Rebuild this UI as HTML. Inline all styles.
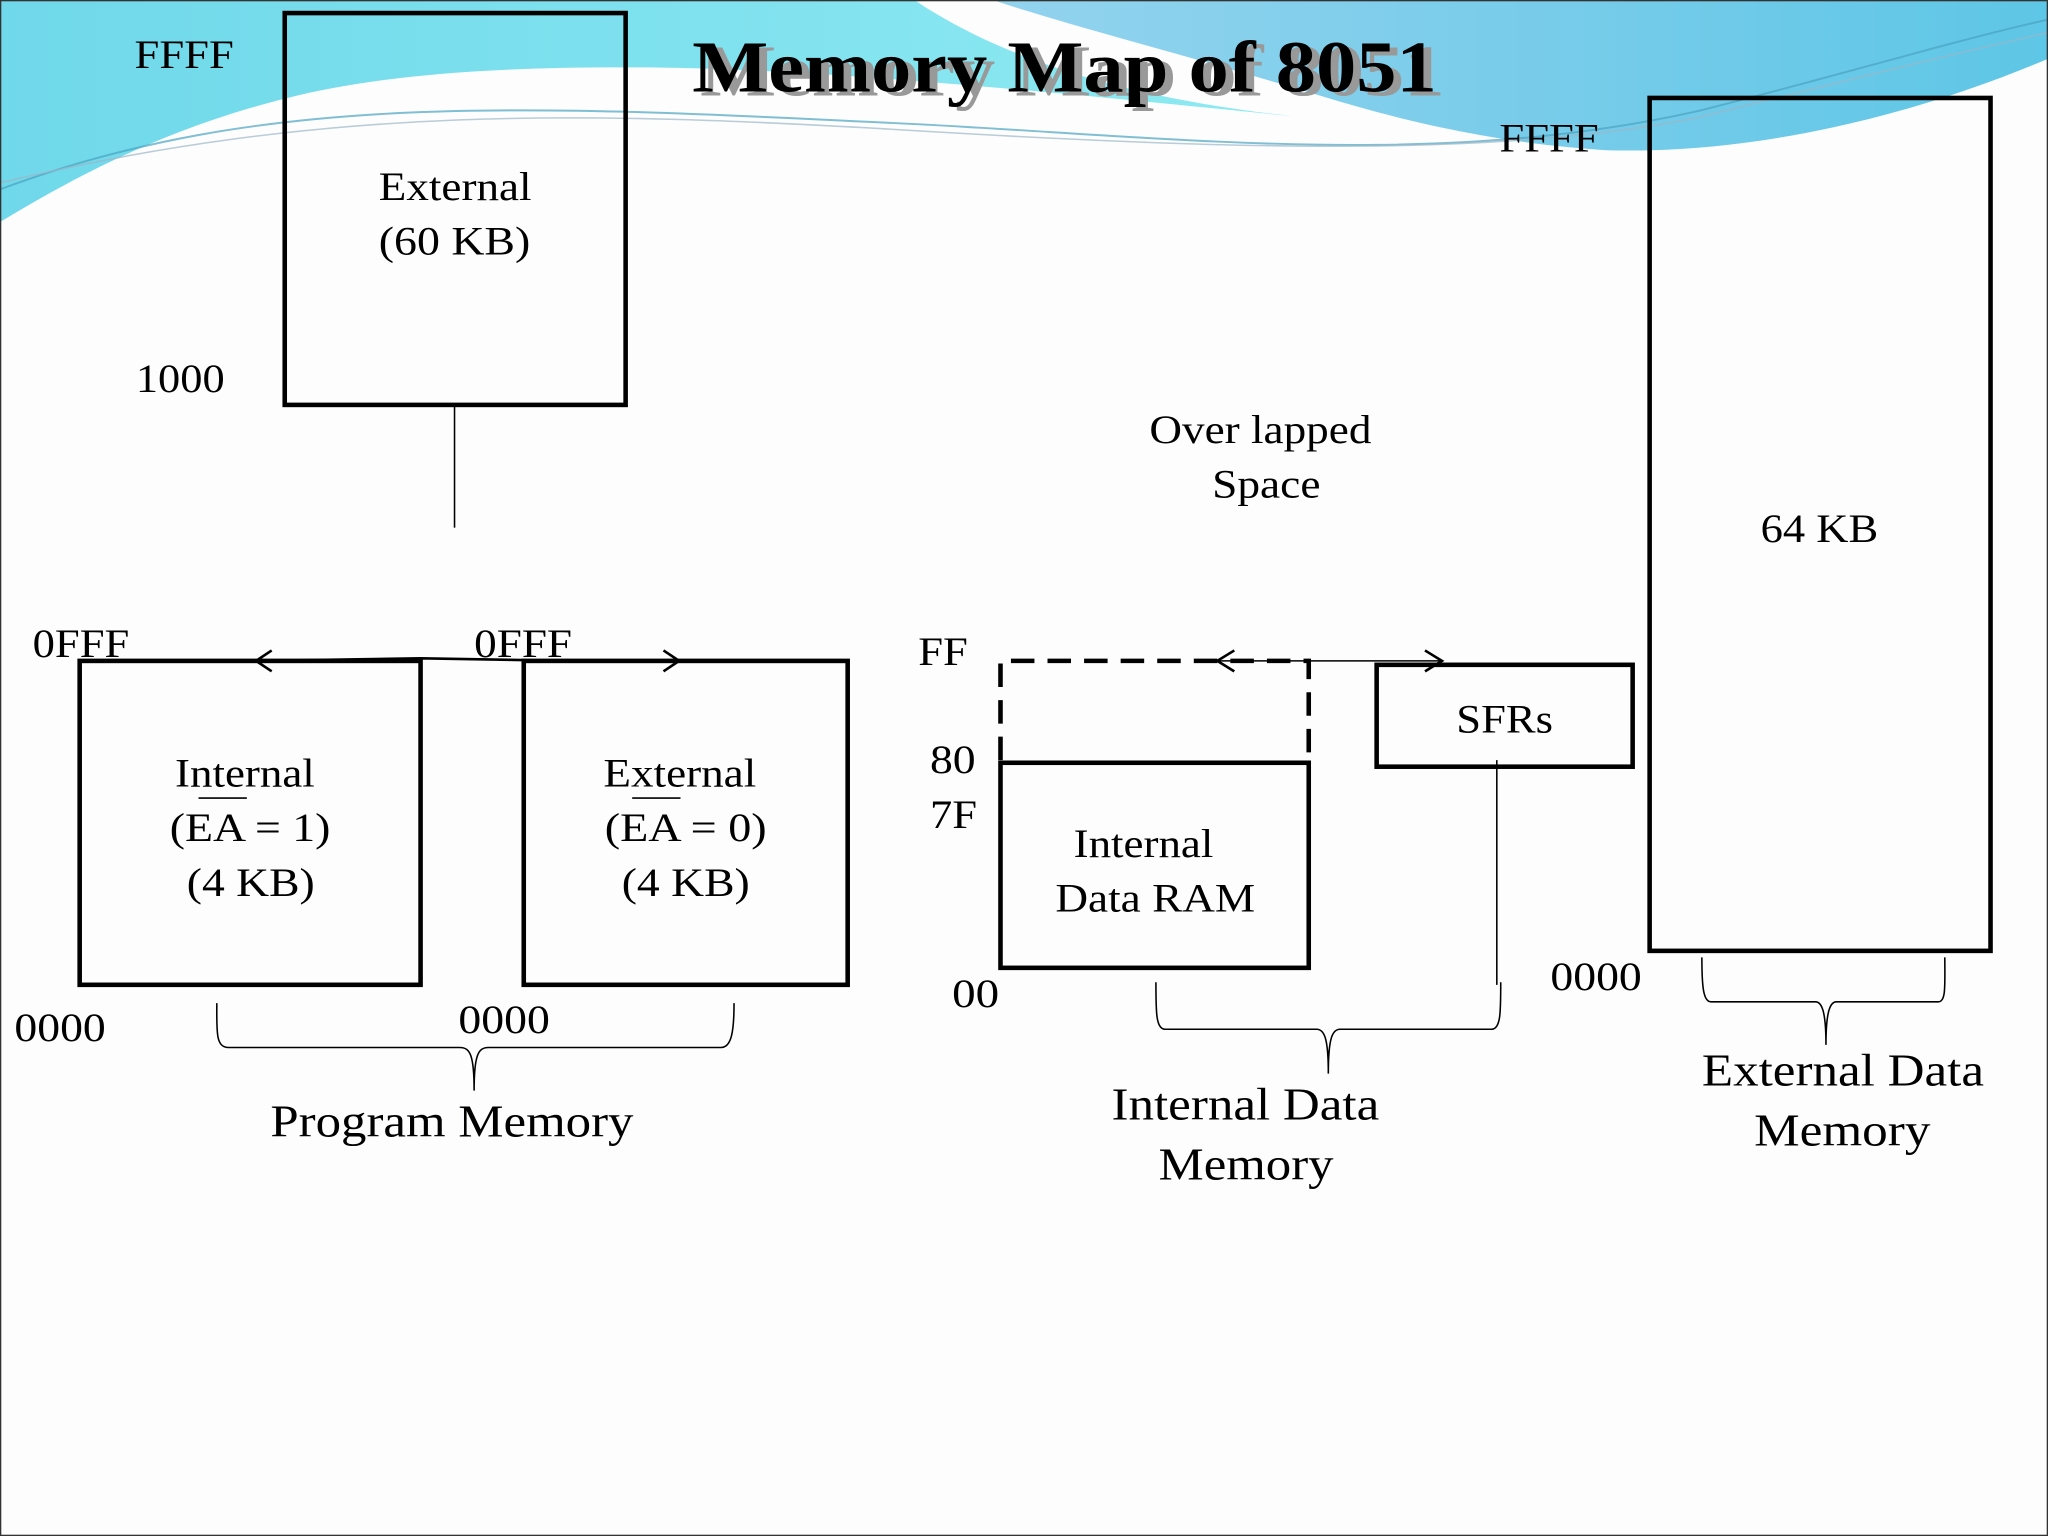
<!DOCTYPE html>
<html><head><style>
html,body{margin:0;padding:0;background:#fdfdfe;}
svg{display:block;}
text{font-family:"Liberation Serif",serif;fill:#000;}
</style></head><body>
<svg width="2048" height="1536" viewBox="0 0 1568 1176" xmlns="http://www.w3.org/2000/svg">
<defs>
<linearGradient id="cy" x1="0" y1="0" x2="1" y2="0"><stop offset="0" stop-color="#6fd8ea"/><stop offset="1" stop-color="#8eeaf2"/></linearGradient>
<linearGradient id="bl" x1="0" y1="0" x2="1" y2="0"><stop offset="0" stop-color="#93d3ee"/><stop offset="1" stop-color="#5ec6e6"/></linearGradient>
</defs>
<rect width="1568" height="1176" fill="#fdfdfe"/>
<path d="M0,0 L700,0 C760,40 850,75 1000,90 C800,70 650,55 520,52 C400,50 300,55 220,75 C120,100 50,140 0,170 Z" fill="url(#cy)"/>
<path d="M760,0 L1568,0 L1568,45 C1450,95 1330,118 1230,115 C1150,110 1080,95 1000,70 C900,40 820,20 760,0 Z" fill="url(#bl)"/>
<path d="M0,145 C200,70 400,80 700,95 C900,105 1100,130 1300,85 C1400,60 1500,30 1568,15" fill="none" stroke="#4aa3c0" stroke-width="1.5" opacity="0.7"/>
<path d="M0,140 C250,80 450,85 700,100 C950,115 1150,120 1300,90 C1420,60 1500,40 1568,25" fill="none" stroke="#9bb6c8" stroke-width="1.2" opacity="0.7"/>
<rect x="0.5" y="0.5" width="1567" height="1175" fill="none" stroke="#333" stroke-width="1"/>

<text x="533" y="70" font-size="56" font-weight="bold" textLength="570" lengthAdjust="spacingAndGlyphs" transform="translate(3,3)" style="fill:#999">Memory Map of 8051</text>
<text x="530" y="70" font-size="56" font-weight="bold" textLength="570" lengthAdjust="spacingAndGlyphs">Memory Map of 8051</text>

<g fill="none" stroke="#000">
<rect x="218" y="10" width="261" height="300" stroke-width="3.5"/>
<line x1="348" y1="310" x2="348" y2="404" stroke-width="1.2"/>
<rect x="61" y="506" width="261" height="248" stroke-width="3.5"/>
<rect x="401" y="506" width="248" height="248" stroke-width="3.5"/>
<path d="M195,506 L322,504 L440,506 L520,506" stroke-width="2"/>
<path d="M208,498 L196,506 L208,514 M508,498 L520,506 L508,514" stroke-width="2"/>
<path d="M766,582 L766,506 L1002,506 L1002,582" stroke-width="3.5" stroke-dasharray="18,10"/>
<rect x="766" y="584" width="236" height="157" stroke-width="3.5"/>
<rect x="1054" y="509" width="196" height="78" stroke-width="3.5"/>
<line x1="932" y1="506" x2="1104" y2="506" stroke-width="1.2"/>
<path d="M945,498 L932,506 L945,514 M1091,498 L1104,506 L1091,514" stroke-width="2"/>
<line x1="1146" y1="582" x2="1146" y2="754" stroke-width="1.2"/>
<rect x="1263" y="75" width="261" height="653" stroke-width="3.5"/>
<path d="M166,768 C166,790 165,802 175,802 L352,802 C360,802 363,808 363,835 C363,808 366,802 374,802 L552,802 C560,802 562,790 562,768" stroke-width="1.2"/>
<path d="M885,752 C885,775 885,788 892,788 L1008,788 C1014,788 1017,795 1017,822 C1017,795 1020,788 1026,788 L1142,788 C1149,788 1149,775 1149,752" stroke-width="1.2"/>
<path d="M1303,733 C1303,755 1304,767 1310,767 L1390,767 C1395,767 1398,775 1398,800 C1398,775 1401,767 1406,767 L1484,767 C1490,767 1489,755 1489,733" stroke-width="1.2"/>
<line x1="152" y1="611" x2="189" y2="611" stroke-width="1.2"/>
<line x1="484" y1="611" x2="521" y2="611" stroke-width="1.2"/>
</g>

<g font-size="31" lengthAdjust="spacingAndGlyphs">
<text x="103" y="52" textLength="76" lengthAdjust="spacingAndGlyphs">FFFF</text>
<text x="290" y="153" textLength="117" lengthAdjust="spacingAndGlyphs">External</text>
<text x="290" y="195" textLength="116" lengthAdjust="spacingAndGlyphs">(60 KB)</text>
<text x="104" y="300" textLength="68" lengthAdjust="spacingAndGlyphs">1000</text>
<text x="25" y="503" textLength="74" lengthAdjust="spacingAndGlyphs">0FFF</text>
<text x="363" y="503" textLength="75" lengthAdjust="spacingAndGlyphs">0FFF</text>
<text x="134" y="602" textLength="107" lengthAdjust="spacingAndGlyphs">Internal</text>
<text x="130" y="644" textLength="123" lengthAdjust="spacingAndGlyphs">(EA = 1)</text>
<text x="143" y="686" textLength="98" lengthAdjust="spacingAndGlyphs">(4 KB)</text>
<text x="462" y="602" textLength="117" lengthAdjust="spacingAndGlyphs">External</text>
<text x="463" y="644" textLength="124" lengthAdjust="spacingAndGlyphs">(EA = 0)</text>
<text x="476" y="686" textLength="98" lengthAdjust="spacingAndGlyphs">(4 KB)</text>
<text x="11" y="797" textLength="70" lengthAdjust="spacingAndGlyphs">0000</text>
<text x="351" y="791" textLength="70" lengthAdjust="spacingAndGlyphs">0000</text>
<text x="207" y="870" font-size="35" textLength="278" lengthAdjust="spacingAndGlyphs">Program Memory</text>
<text x="1148" y="116" textLength="76" lengthAdjust="spacingAndGlyphs">FFFF</text>
<text x="880" y="339" textLength="170" lengthAdjust="spacingAndGlyphs">Over lapped</text>
<text x="928" y="381" textLength="83" lengthAdjust="spacingAndGlyphs">Space</text>
<text x="1348" y="415" textLength="90" lengthAdjust="spacingAndGlyphs">64 KB</text>
<text x="703" y="509" textLength="38" lengthAdjust="spacingAndGlyphs">FF</text>
<text x="712" y="592" textLength="35" lengthAdjust="spacingAndGlyphs">80</text>
<text x="712" y="634" textLength="36" lengthAdjust="spacingAndGlyphs">7F</text>
<text x="1115" y="561" textLength="74" lengthAdjust="spacingAndGlyphs">SFRs</text>
<text x="822" y="656" textLength="107" lengthAdjust="spacingAndGlyphs">Internal</text>
<text x="808" y="698" textLength="153" lengthAdjust="spacingAndGlyphs">Data RAM</text>
<text x="729" y="771" textLength="36" lengthAdjust="spacingAndGlyphs">00</text>
<text x="1187" y="758" textLength="70" lengthAdjust="spacingAndGlyphs">0000</text>
<text x="851" y="857" font-size="35" textLength="205" lengthAdjust="spacingAndGlyphs">Internal Data</text>
<text x="887" y="903" font-size="35" textLength="134" lengthAdjust="spacingAndGlyphs">Memory</text>
<text x="1303" y="831" font-size="35" textLength="216" lengthAdjust="spacingAndGlyphs">External Data</text>
<text x="1343" y="877" font-size="35" textLength="135" lengthAdjust="spacingAndGlyphs">Memory</text>
</g>
</svg>
</body></html>
